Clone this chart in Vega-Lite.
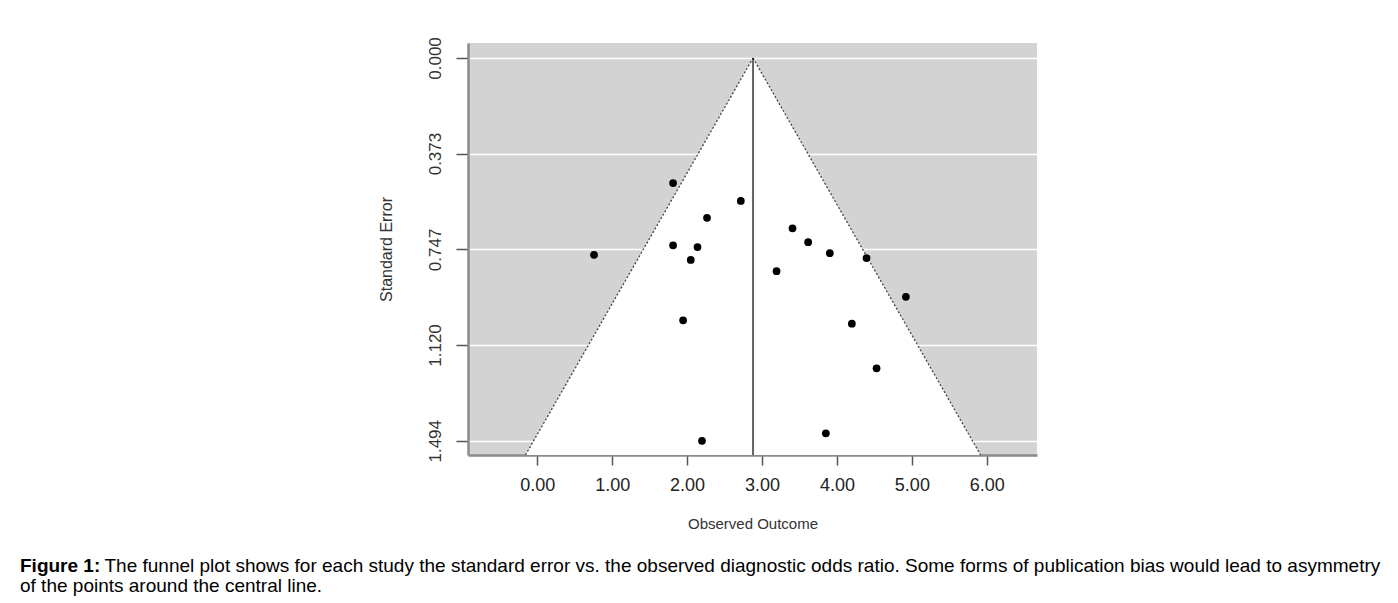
{
  "$schema": "https://vega.github.io/schema/vega-lite/v6.json",
  "width": 569,
  "height": 412,
  "autosize": {"type": "none"},
  "padding": {"left": 468, "top": 43, "right": 361, "bottom": 148},
  "background": "white",
  "title": {
    "text": "Figure 1:",
    "subtitle": [
      "\u200b\u00a0\u00a0\u00a0\u00a0\u00a0\u00a0\u00a0\u00a0\u00a0\u00a0\u00a0\u00a0\u00a0\u00a0\u00a0\u00a0The funnel plot shows for each study the standard error vs. the observed diagnostic odds ratio. Some forms of publication bias would lead to asymmetry",
      "of the points around the central line."
    ],
    "orient": "bottom",
    "anchor": "start",
    "frame": "group",
    "dx": -448,
    "offset": 26,
    "font": "Liberation Sans",
    "fontSize": 19,
    "fontWeight": "bold",
    "color": "#000000",
    "subtitleFont": "Liberation Sans",
    "subtitleFontSize": 19,
    "subtitleFontWeight": "normal",
    "subtitleColor": "#000000",
    "subtitlePadding": -19,
    "subtitleLineHeight": 20
  },
  "config": {
    "view": {"fill": "#d3d3d3", "stroke": null},
    "axis": {"labelFont": "Liberation Sans", "titleFont": "Liberation Sans"}
  },
  "datasets": {
    "funnel": [
      {"se": 0, "x": 2.88, "x2": 2.88},
      {"se": 1.5495, "x": -0.157, "x2": 5.917}
    ],
    "edges": [
      {"side": "left", "x": 2.88, "se": 0},
      {"side": "left", "x": -0.157, "se": 1.5495},
      {"side": "right", "x": 2.88, "se": 0},
      {"side": "right", "x": 5.917, "se": 1.5495}
    ],
    "centre": [
      {"x": 2.88, "se": 0, "se2": 1.5495}
    ],
    "studies": [
      {"x": 0.758, "se": 0.768},
      {"x": 1.813, "se": 0.488},
      {"x": 2.717, "se": 0.558},
      {"x": 2.266, "se": 0.624},
      {"x": 1.813, "se": 0.731},
      {"x": 2.139, "se": 0.738},
      {"x": 2.049, "se": 0.788},
      {"x": 1.947, "se": 1.024},
      {"x": 2.199, "se": 1.494},
      {"x": 3.407, "se": 0.665},
      {"x": 3.616, "se": 0.719},
      {"x": 3.905, "se": 0.762},
      {"x": 4.395, "se": 0.781},
      {"x": 3.194, "se": 0.832},
      {"x": 4.92, "se": 0.932},
      {"x": 4.199, "se": 1.037},
      {"x": 4.529, "se": 1.211},
      {"x": 3.852, "se": 1.465}
    ]
  },
  "layer": [
    {
      "data": {"name": "funnel"},
      "mark": {"type": "area", "orient": "horizontal", "color": "white"},
      "encoding": {
        "y": {
          "field": "se",
          "type": "quantitative",
          "scale": {"domain": [-0.0585, 1.5495], "reverse": true, "nice": false, "zero": false},
          "axis": {
            "title": "Standard Error",
            "values": [0, 0.373, 0.747, 1.12, 1.494],
            "format": ".3f",
            "labelAngle": -90,
            "labelAlign": "center",
            "labelBaseline": "bottom",
            "labelFontSize": 17,
            "labelColor": "#333333",
            "labelPadding": 12,
            "tickSize": 12,
            "tickColor": "#555555",
            "tickWidth": 1.5,
            "domainColor": "#8a8a8a",
            "domainWidth": 2.5,
            "grid": true,
            "gridColor": "#ffffff",
            "gridWidth": 1.5,
            "gridOpacity": 1,
            "titleFontSize": 16,
            "titleFontWeight": "normal",
            "titleColor": "#333333",
            "titlePadding": 32
          }
        },
        "x": {
          "field": "x",
          "type": "quantitative",
          "scale": {"domain": [-0.924, 6.67], "nice": false, "zero": false},
          "axis": {
            "title": "Observed Outcome",
            "values": [0, 1, 2, 3, 4, 5, 6],
            "format": ".2f",
            "labelFontSize": 18,
            "labelColor": "#222222",
            "labelPadding": 11,
            "tickSize": 10,
            "tickColor": "#555555",
            "tickWidth": 1.5,
            "domainColor": "#8a8a8a",
            "domainWidth": 2.5,
            "grid": false,
            "titleFontSize": 15,
            "titleFontWeight": "normal",
            "titleColor": "#333333",
            "titlePadding": 22
          }
        },
        "x2": {"field": "x2"}
      }
    },
    {
      "data": {"name": "edges"},
      "mark": {"type": "line", "color": "#444444", "strokeWidth": 1.3, "strokeDash": [2, 2]},
      "encoding": {
        "x": {"field": "x", "type": "quantitative"},
        "y": {"field": "se", "type": "quantitative"},
        "detail": {"field": "side", "type": "nominal"}
      }
    },
    {
      "data": {"name": "centre"},
      "mark": {"type": "rule", "color": "#111111", "strokeWidth": 1.3},
      "encoding": {
        "x": {"field": "x", "type": "quantitative"},
        "y": {"field": "se", "type": "quantitative"},
        "y2": {"field": "se2"}
      }
    },
    {
      "data": {"name": "studies"},
      "mark": {"type": "circle", "color": "#000000", "opacity": 1, "size": 60},
      "encoding": {
        "x": {"field": "x", "type": "quantitative"},
        "y": {"field": "se", "type": "quantitative"}
      }
    }
  ]
}
